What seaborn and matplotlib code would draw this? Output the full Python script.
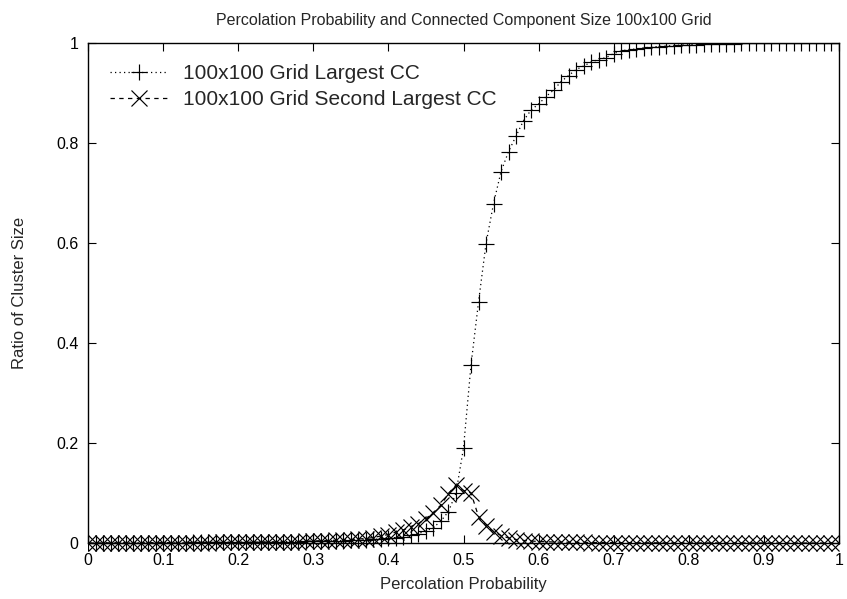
import numpy as np
import pandas as pd
import matplotlib
matplotlib.use("Agg")
import matplotlib.pyplot as plt
from matplotlib.patches import Rectangle
import seaborn as sns

# ---- data ----
p_values = [round(i / 100, 2) for i in range(101)]

largest_cc = [
    0.0001, 0.0002, 0.0003, 0.0004, 0.0004, 0.0005, 0.0006, 0.0006, 0.0007, 0.0008,
    0.0008, 0.0009, 0.0010, 0.0010, 0.0011, 0.0012, 0.0013, 0.0014, 0.0015, 0.0016,
    0.0017, 0.0018, 0.0019, 0.0021, 0.0022, 0.0024, 0.0026, 0.0028, 0.0030, 0.0033,
    0.0036, 0.0039, 0.0042, 0.0046, 0.0050, 0.0055, 0.0060, 0.0066, 0.0073, 0.0081,
    0.0095, 0.0110, 0.0130, 0.0155, 0.0190, 0.0240, 0.0310, 0.0440, 0.0630, 0.1000,
    0.1900, 0.3560, 0.4820, 0.5990, 0.6790, 0.7430, 0.7830, 0.8140, 0.8450, 0.8660,
    0.8780, 0.8930, 0.9060, 0.9230, 0.9350, 0.9470, 0.9540, 0.9620, 0.9670, 0.9710,
    0.9790, 0.9840, 0.9870, 0.9880, 0.9900, 0.9920, 0.9930, 0.9940, 0.9950, 0.9960,
    0.9965, 0.9970, 0.9975, 0.9980, 0.9984, 0.9987, 0.9990, 0.9992, 0.9994, 0.9995,
    0.9996, 0.9997, 0.9998, 0.9998, 0.9999, 0.9999, 0.9999, 1.0000, 1.0000, 1.0000,
    1.0000,
]

second_cc = [
    0.0001, 0.0002, 0.0002, 0.0003, 0.0003, 0.0004, 0.0004, 0.0005, 0.0005, 0.0006,
    0.0006, 0.0007, 0.0007, 0.0008, 0.0009, 0.0009, 0.0010, 0.0011, 0.0012, 0.0013,
    0.0014, 0.0015, 0.0016, 0.0018, 0.0019, 0.0021, 0.0023, 0.0026, 0.0029, 0.0033,
    0.0040, 0.0045, 0.0050, 0.0055, 0.0060, 0.0070, 0.0080, 0.0090, 0.0110, 0.0140,
    0.0170, 0.0220, 0.0260, 0.0330, 0.0390, 0.0490, 0.0610, 0.0760, 0.0990, 0.1160,
    0.1050, 0.1000, 0.0530, 0.0340, 0.0230, 0.0150, 0.0100, 0.0070, 0.0050, 0.0040,
    0.0030, 0.0025, 0.0020, 0.0017, 0.0015, 0.0013, 0.0011, 0.0010, 0.0009, 0.0008,
    0.0007, 0.0006, 0.0006, 0.0005, 0.0005, 0.0004, 0.0004, 0.0003, 0.0003, 0.0003,
    0.0002, 0.0002, 0.0002, 0.0002, 0.0001, 0.0001, 0.0001, 0.0001, 0.0001, 0.0001,
    0.0001, 0.0000, 0.0000, 0.0000, 0.0000, 0.0000, 0.0000, 0.0000, 0.0000, 0.0000,
    0.0000,
]

x_ticks = [0, 0.1, 0.2, 0.3, 0.4, 0.5, 0.6, 0.7, 0.8, 0.9, 1]
x_tick_labels = ["0", "0.1", "0.2", "0.3", "0.4", "0.5", "0.6", "0.7", "0.8", "0.9", "1"]
y_ticks = [0, 0.2, 0.4, 0.6, 0.8, 1]
y_tick_labels = ["0", "0.2", "0.4", "0.6", "0.8", "1"]

label_largest = "100x100 Grid Largest CC"
label_second = "100x100 Grid Second Largest CC"

df = pd.DataFrame({"p": p_values, "largest": largest_cc, "second": second_cc})

# ---- style ----
sns.set_style("ticks")
plt.rcParams["font.family"] = ["Liberation Sans", "DejaVu Sans"]

fig = plt.figure(figsize=(8.47, 5.99), dpi=100)
ax = fig.add_axes([88 / 847, 1 - 543 / 599, (839 - 88) / 847, (543 - 43) / 599])

sns.lineplot(data=df, x="p", y="largest", ax=ax, color="black", linewidth=0.9,
             marker="+", markersize=11, markeredgewidth=0.85,
             markeredgecolor="black", markerfacecolor="none")
sns.lineplot(data=df, x="p", y="second", ax=ax, color="black", linewidth=0.9,
             marker="x", markersize=11, markeredgewidth=0.85,
             markeredgecolor="black", markerfacecolor="none")

lines = ax.get_lines()
line_l, line_s = lines[0], lines[1]
line_l.set_dashes((1, 2.6))
line_s.set_dashes((3.5, 3.5))

# clip horizontally and at the top, but let markers at y=0 show fully
clip_rect = Rectangle((0, -0.03), 1, 1.03, transform=ax.transAxes,
                      facecolor="none", edgecolor="none")
ax.add_patch(clip_rect)
for ln in (line_l, line_s):
    ln.set_clip_path(clip_rect)

ax.set_xlim(0, 1)
ax.set_ylim(0, 1)
ax.set_xticks(x_ticks)
ax.set_xticklabels(x_tick_labels)
ax.set_yticks(y_ticks)
ax.set_yticklabels(y_tick_labels)

for s in ax.spines.values():
    s.set_visible(True)
    s.set_linewidth(1.0)
    s.set_color("black")

ax.tick_params(direction="in", top=True, right=True, length=6, width=0.8,
               labelsize=11.5, colors="black")
ax.tick_params(axis="x", pad=7)
ax.tick_params(axis="y", pad=7)

ax.set_xlabel("Percolation Probability", fontsize=12, va="center")
ax.set_ylabel("Ratio of Cluster Size", fontsize=12, va="center")
ax.xaxis.set_label_coords(0.5, (543 - 585) / 500)
ax.yaxis.set_label_coords((19 - 88) / 751, 0.5)
ax.set_title("Percolation Probability and Connected Component Size 100x100 Grid",
             fontsize=11.5, pad=13)

leg = ax.legend([line_l, line_s], [label_largest, label_second],
                loc="upper left", frameon=False, fontsize=15,
                handlelength=2.8, handletextpad=0.7, labelspacing=0.33,
                borderaxespad=0, borderpad=0, bbox_to_anchor=(0.029, 0.958),
                numpoints=1)

fig.savefig("out.png", dpi=100)
